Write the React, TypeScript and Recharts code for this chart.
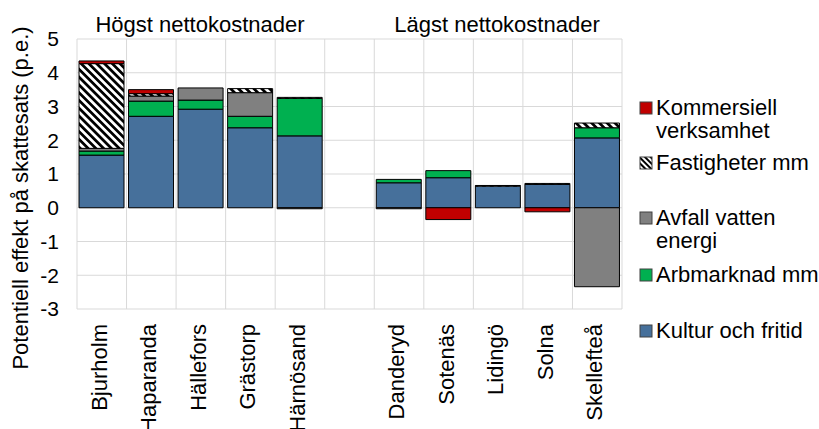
import React from 'react';
import { BarChart, Bar, XAxis, YAxis, CartesianGrid } from 'recharts';

const categories = ['Bjurholm', 'Haparanda', 'Hällefors', 'Grästorp', 'Härnösand', '', 'Danderyd', 'Sotenäs', 'Lidingö', 'Solna', 'Skellefteå'];

const kultur = [1.56, 2.71, 2.92, 2.37, 2.13, null, 0.74, 0.89, 0.64, 0.69, 2.07];
const arbmarknad = [0.12, 0.45, 0.27, 0.34, 1.11, null, 0.1, 0.21, 0, 0, 0.3];
const avfall = [0.08, 0.15, 0.36, 0.7, -0.03, null, -0.03, 0, 0, 0, -2.34];
const fastigheter = [2.51, 0.07, 0, 0.12, 0.03, null, 0, 0, 0.02, 0.03, 0.14];
const kommersiell = [0.08, 0.12, 0, 0, 0, null, 0, -0.35, 0, -0.12, 0];

const yTicks = [-3, -2, -1, 0, 1, 2, 3, 4, 5];

const series = [
  { key: 'kultur', name: 'Kultur och fritid', fill: '#46709B' },
  { key: 'arbmarknad', name: 'Arbmarknad mm', fill: '#00B050' },
  { key: 'avfall', name: 'Avfall vatten energi', fill: '#808080' },
  { key: 'fastigheter', name: 'Fastigheter mm', fill: 'url(#hatch)' },
  { key: 'kommersiell', name: 'Kommersiell verksamhet', fill: '#C00000' },
];

// legend lines, drawn top to bottom like the original
const legendItems = [
  { lines: ['Kommersiell', 'verksamhet'], fill: '#C00000', y: 115 },
  { lines: ['Fastigheter mm'], fill: 'url(#hatchLegend)', y: 170 },
  { lines: ['Avfall vatten', 'energi'], fill: '#808080', y: 225 },
  { lines: ['Arbmarknad mm'], fill: '#00B050', y: 282 },
  { lines: ['Kultur och fritid'], fill: '#46709B', y: 338 },
];

const data = categories.map((name, i) => ({
  name,
  kultur: kultur[i],
  arbmarknad: arbmarknad[i],
  avfall: avfall[i],
  fastigheter: fastigheter[i],
  kommersiell: kommersiell[i],
}));

const FONT = '"Liberation Sans", Arial, sans-serif';

const CategoryTick = (props: any) => {
  const { x, payload } = props;
  const tx = x + 5;
  const ty = 324;
  return (
    <text x={tx} y={ty} transform={`rotate(-90, ${tx}, ${ty})`} textAnchor="end" fontSize={22} fill="#000" fontFamily={FONT}>
      {payload.value}
    </text>
  );
};

const App: React.FC = () => {
  return (
    <div style={{ position: 'absolute', left: 0, top: 0, width: 819, height: 429, background: '#fff', fontFamily: FONT }}>
      <BarChart
        width={819}
        height={429}
        data={data}
        stackOffset="sign"
        barSize={45}
        margin={{ top: 39, right: 197, bottom: 0, left: 17 }}
      >
        <defs>
          <pattern id="hatch" patternUnits="userSpaceOnUse" width={5.5} height={5.5} patternTransform="rotate(-45)">
            <rect width={5.5} height={5.5} fill="#fff" />
            <rect width={2.75} height={5.5} fill="#000" />
          </pattern>
        </defs>
        <CartesianGrid
          stroke="#D9D9D9"
          verticalCoordinatesGenerator={({ offset }: any) =>
            categories.map((_, i) => offset.left + (i * offset.width) / categories.length).concat(offset.left + offset.width)
          }
        />
        <XAxis dataKey="name" height={120} axisLine={false} tickLine={false} interval={0} tick={<CategoryTick />} />
        <YAxis
          domain={[-3, 5]}
          ticks={yTicks}
          width={60}
          axisLine={false}
          tickLine={false}
          tickMargin={12}
          tick={{ fontSize: 21, fill: '#000', fontFamily: FONT }}
          label={{
            content: () => (
              <text x={28} y={198} transform="rotate(-90, 28, 198)" textAnchor="middle" fontSize={22} fill="#000" fontFamily={FONT}>
                Potentiell effekt på skattesats (p.e.)
              </text>
            ),
          }}
        />
        {series.map((s) => (
          <Bar key={s.key} dataKey={s.key} name={s.name} stackId="a" fill={s.fill} stroke="#000" strokeWidth={1} isAnimationActive={false} />
        ))}
      </BarChart>

      <svg width={819} height={429} style={{ position: 'absolute', left: 0, top: 0, pointerEvents: 'none' }}>
        <defs>
          <pattern id="hatchLegend" patternUnits="userSpaceOnUse" width={4} height={4} patternTransform="rotate(-45)">
            <rect width={4} height={4} fill="#fff" />
            <rect width={2} height={4} fill="#000" />
          </pattern>
        </defs>
        <text x={200} y={32} textAnchor="middle" fontSize={22} fill="#000" fontFamily={FONT}>Högst nettokostnader</text>
        <text x={497} y={32} textAnchor="middle" fontSize={22} fill="#000" fontFamily={FONT}>Lägst nettokostnader</text>
        {legendItems.map((item) => (
          <g key={item.lines[0]}>
            <rect x={640} y={item.y - 13} width={12} height={12} fill={item.fill} stroke="#404040" strokeWidth={1} />
            {item.lines.map((line, j) => (
              <text key={line} x={656} y={item.y + j * 23} fontSize={22} fill="#000" fontFamily={FONT}>{line}</text>
            ))}
          </g>
        ))}
      </svg>
    </div>
  );
};

export default App;
